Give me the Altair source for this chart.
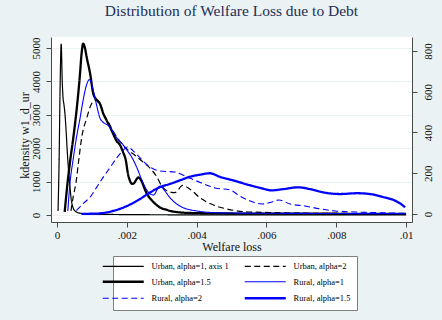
import altair as alt
import pandas as pd

# Series names, in plotting order
SERIES = [
    "Urban, alpha=1, axis 1",
    "Urban, alpha=2",
    "Urban, alpha=1.5",
    "Rural, alpha=1",
    "Rural, alpha=2",
    "Rural, alpha=1.5",
]
# Legend entries fill a 3-row grid column by column
LEGEND_ORDER = [SERIES[0], SERIES[2], SERIES[4], SERIES[1], SERIES[3], SERIES[5]]

# Kernel density estimates of welfare loss (x = welfare loss, y = density)
# Urban, alpha=1 -- plotted on the left axis
u1_x = [0.00003, 0.00006, 0.00009, 0.00012, 0.00015, 0.00017, 0.0002, 0.00023,
        0.00027, 0.0003, 0.00033, 0.00037, 0.00041, 0.00046, 0.00053, 0.00065,
        0.0009, 0.0013, 0.0018, 0.0025, 0.0035, 0.005, 0.0075, 0.01]
u1_y = [120, 1600, 3900, 5120, 4000, 3550, 3300, 3000,
        2350, 1800, 1350, 850, 450, 220, 110, 55,
        30, 20, 14, 9, 6, 4, 3, 2]

# Urban, alpha=2 -- right axis
u2_x = [0.0004, 0.00047, 0.00054, 0.00062, 0.00071, 0.00085, 0.00099, 0.00113,
        0.00123, 0.00133, 0.00147, 0.00171, 0.002, 0.00219, 0.00243, 0.00266,
        0.00286, 0.003, 0.00324, 0.00338, 0.0036, 0.00381, 0.0041, 0.00448,
        0.00486, 0.00534, 0.0061, 0.007, 0.008, 0.009, 0.01]
u2_y = [15, 90, 149, 260, 378, 470, 541, 562,
        545, 496, 451, 378, 319, 294, 260, 226,
        182, 137, 108, 105, 140, 122, 79, 44,
        25, 12, 7, 4, 3, 2, 2]

# Urban, alpha=1.5 -- right axis
u15_x = [0.00022, 0.0003, 0.00038, 0.00047, 0.00058, 0.00066, 0.0007, 0.00075,
         0.0008, 0.00085, 0.00095, 0.00104, 0.00114, 0.00123, 0.00133, 0.00142,
         0.00152, 0.00161, 0.00171, 0.0018, 0.0019, 0.00197, 0.00203, 0.00209,
         0.00215, 0.0022, 0.00227, 0.00233, 0.00238, 0.00244, 0.0025, 0.00257,
         0.00266, 0.00276, 0.00295, 0.00315, 0.00333, 0.0038, 0.0045, 0.0055,
         0.007, 0.0085, 0.01]
u15_y = [10, 149, 265, 378, 541, 690, 780, 836,
         815, 770, 688, 590, 559, 541, 491, 460,
         427, 393, 358, 340, 300, 265, 200, 163,
         148, 150, 168, 180, 173, 155, 128, 101,
         78, 59, 32, 20, 12, 5, 3, 2,
         1.5, 1, 1]

# Rural, alpha=1 -- right axis
r1_x = [0.00031, 0.00037, 0.00046, 0.00056, 0.00066, 0.00075, 0.00084, 0.00093,
        0.00099, 0.00104, 0.00114, 0.00123, 0.00133, 0.00147, 0.00161, 0.00176,
        0.00185, 0.002, 0.00214, 0.00228, 0.00243, 0.00257, 0.00276, 0.00295,
        0.00309, 0.00324, 0.00352, 0.004, 0.0046, 0.0055, 0.007, 0.0085, 0.01]
r1_y = [15, 149, 265, 378, 470, 560, 630, 660,
        640, 606, 530, 471, 449, 434, 402, 363,
        348, 314, 280, 231, 167, 118, 93, 137,
        113, 79, 39, 15, 6, 4, 3, 2, 2]

# Rural, alpha=2 -- right axis
r2_x = [0.00056, 0.00075, 0.00095, 0.00114, 0.00133, 0.00152, 0.00171, 0.00188,
        0.00203, 0.00218, 0.00238, 0.00266, 0.00295, 0.00338, 0.00367, 0.0041,
        0.00453, 0.00496, 0.00524, 0.00553, 0.00587, 0.00616, 0.00636, 0.00668,
        0.00711, 0.00754, 0.00797, 0.00854, 0.00926, 0.01]
r2_y = [17, 51, 83, 132, 182, 228, 275, 310,
        330, 310, 275, 231, 211, 206, 186, 155,
        128, 118, 88, 64, 49, 59, 69, 49,
        39, 25, 15, 10, 6, 3]

# Rural, alpha=1.5 -- right axis
r15_x = [0.0007, 0.001, 0.00123, 0.0014, 0.0016, 0.0018, 0.002, 0.0022,
         0.00238, 0.00266, 0.00295, 0.00324, 0.00352, 0.00381, 0.0041, 0.00438,
         0.00467, 0.00505, 0.00544, 0.00582, 0.00615, 0.00648, 0.00691, 0.00725,
         0.00763, 0.00811, 0.00859, 0.00897, 0.00935, 0.00964, 0.00983, 0.00997]
r15_y = [0.5, 1.5, 3, 7, 15, 25, 39, 56,
         74, 105, 132, 148, 165, 183, 193, 200,
         182, 165, 145, 128, 116, 122, 131, 122,
         106, 98, 102, 98, 83, 69, 52, 33]

# Tick values
X_TICKS = [0, 0.002, 0.004, 0.006, 0.008, 0.01]
LEFT_TICKS = [0, 1000, 2000, 3000, 4000, 5000]
RIGHT_TICKS = [0, 200, 400, 600, 800]

# Line styles per series
STYLE = {
    SERIES[0]: ("#000000", [1, 0], 1.2),
    SERIES[1]: ("#000000", [6, 3.5], 1.2),
    SERIES[2]: ("#000000", [1, 0], 2.3),
    SERIES[3]: ("#0000ff", [1, 0], 1.1),
    SERIES[4]: ("#0000ff", [6, 3.5], 1.1),
    SERIES[5]: ("#0000ff", [1, 0], 2.3),
}
COLORS = [STYLE[s][0] for s in LEGEND_ORDER]
DASHES = [STYLE[s][1] for s in LEGEND_ORDER]

curves = [(u1_x, u1_y), (u2_x, u2_y), (u15_x, u15_y),
          (r1_x, r1_y), (r2_x, r2_y), (r15_x, r15_y)]
rows = []
for name, (xs, ys) in zip(SERIES, curves):
    for xv, yv in zip(xs, ys):
        rows.append({"series": name, "loss": xv, "density": yv, "w": STYLE[name][2]})
df = pd.DataFrame(rows)

SERIF = "Liberation Serif"
thick = [s for s in SERIES if STYLE[s][2] > 2]
width_expr = "indexof([%s], datum.value) >= 0 ? 2.4 : 1.2" % ", ".join("'%s'" % s for s in thick)

legend = alt.Legend(
    title=None, orient="none", legendX=62, legendY=219, columns=2,
    symbolType="stroke", symbolSize=1681,
    symbolStrokeWidth=alt.ExprRef(expr=width_expr),
    labelFont=SERIF, labelFontSize=8.5, labelColor="black", labelOffset=24,
    labelLimit=300, columnPadding=10, rowPadding=5.5, padding=6,
    fillColor="white", strokeColor="#7f7f7f",
)

base = alt.Chart(df).mark_line(interpolate="monotone").encode(
    x=alt.X(
        "loss:Q",
        scale=alt.Scale(domain=[-0.000172, 0.01017], nice=False, zero=False),
        axis=alt.Axis(
            values=X_TICKS, title="Welfare loss", grid=False,
            labelExpr="datum.value == 0 ? '0' : slice(format(datum.value, '.3~f'), 1)",
            tickSize=5, labelPadding=2, titlePadding=1,
        ),
    ),
    color=alt.Color("series:N", scale=alt.Scale(domain=LEGEND_ORDER, range=COLORS), legend=legend),
    strokeDash=alt.StrokeDash("series:N", scale=alt.Scale(domain=LEGEND_ORDER, range=DASHES), legend=legend),
    strokeWidth=alt.StrokeWidth("w:Q", scale=None),
)

left = base.transform_filter(alt.datum.series == SERIES[0]).encode(
    y=alt.Y(
        "density:Q",
        scale=alt.Scale(domain=[-209.6, 5329], nice=False, zero=False),
        axis=alt.Axis(
            orient="left", values=LEFT_TICKS, format="d", title="kdensity w1_d_ur",
            grid=True, gridColor="#eaf2f3", gridWidth=1.2,
            labelAngle=270, labelAlign="center", labelBaseline="bottom",
            tickSize=5, labelPadding=5, titlePadding=-1, titleY=98,
        ),
    )
)

right = base.transform_filter(alt.datum.series != SERIES[0]).encode(
    y=alt.Y(
        "density:Q",
        scale=alt.Scale(domain=[-39.3, 868.7], nice=False, zero=False),
        axis=alt.Axis(
            orient="right", values=RIGHT_TICKS, format="d", title=None, grid=False,
            labelAngle=270, labelAlign="center", labelBaseline="top",
            tickSize=5, labelPadding=5,
        ),
    )
)

chart = (
    alt.layer(left, right)
    .resolve_scale(y="independent")
    .properties(
        width=361, height=185,
        padding={"left": 51, "top": 37, "right": 30, "bottom": 98},
        autosize=alt.AutoSizeParams(type="none"),
        background="#eaf2f3",
        title=alt.TitleParams(
            "Distribution of Welfare Loss due to Debt",
            font=SERIF, fontSize=15.5, fontWeight="normal", color="#1e2d56",
            anchor="middle", baseline="alphabetic", offset=5,
        ),
    )
    .configure_view(fill="white", stroke=None)
    .configure_axis(
        labelFont=SERIF, labelFontSize=11, labelColor="#111111",
        titleFont=SERIF, titleFontSize=12, titleColor="#111111", titleFontWeight="normal",
        domainColor="#4a4a4a", tickColor="#4a4a4a", domainWidth=1, tickWidth=1,
    )
)

chart.save("out.html", embed_options={"renderer": "svg", "actions": False})
